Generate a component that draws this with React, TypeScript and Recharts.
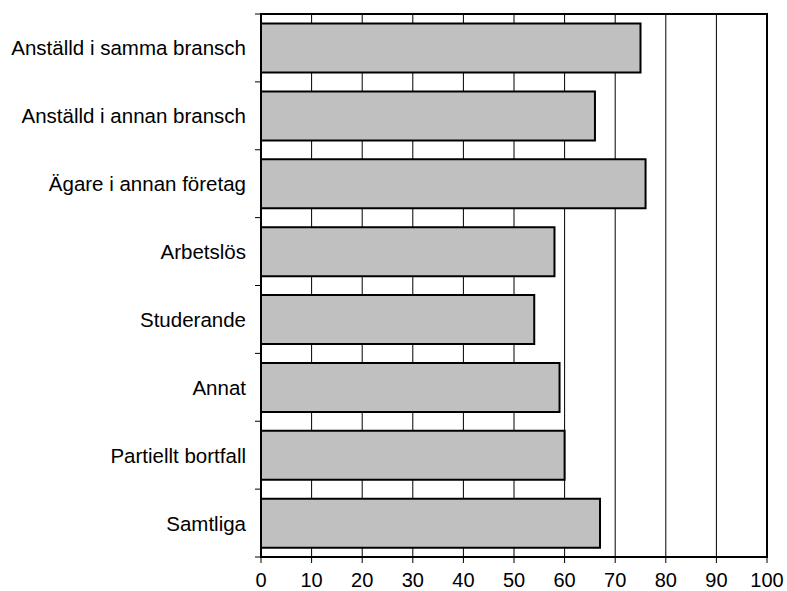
import { BarChart, Bar, XAxis, YAxis, CartesianGrid, ReferenceArea } from 'recharts';

const CATEGORIES = [
  'Anställd i samma bransch',
  'Anställd i annan bransch',
  'Ägare i annan företag',
  'Arbetslös',
  'Studerande',
  'Annat',
  'Partiellt bortfall',
  'Samtliga',
];

const VALUES = [75, 66, 76, 58, 54, 59, 60, 67];

const X_TICKS = [0, 10, 20, 30, 40, 50, 60, 70, 80, 90, 100];

const FONT = '"Liberation Sans", Arial, sans-serif';

const TOP = 14;
const BOTTOM = 557;
const BAND = (BOTTOM - TOP) / CATEGORIES.length;
const AXIS_X = 261;

const data = CATEGORIES.map((name, i) => ({ name, value: VALUES[i] }));

// category label plus a tick mark on the band boundary (like the original)
function CategoryTick(props: any) {
  const { y, payload, index } = props;
  return (
    <g>
      <text
        x={AXIS_X - 15}
        y={y}
        textAnchor="end"
        dominantBaseline="central"
        fontFamily={FONT}
        fontSize={20.5}
        fill="#000"
      >
        {payload.value}
      </text>
      <line x1={AXIS_X - 6} x2={AXIS_X} y1={y + BAND / 2} y2={y + BAND / 2} stroke="#000" />
      {index === 0 && (
        <line x1={AXIS_X - 6} x2={AXIS_X} y1={y - BAND / 2} y2={y - BAND / 2} stroke="#000" />
      )}
    </g>
  );
}

export default function App() {
  return (
    <div style={{ width: 787, height: 591, background: '#fff' }}>
      <style>{'body{margin:0}'}</style>
      <BarChart
        width={787}
        height={591}
        data={data}
        layout="vertical"
        margin={{ top: TOP, right: 20, bottom: 591 - BOTTOM - 30, left: 0 }}
        barCategoryGap="14%"
      >
        <CartesianGrid horizontal={false} stroke="#000" strokeDasharray="" />
        <XAxis
          type="number"
          domain={[0, 100]}
          ticks={X_TICKS}
          interval={0}
          height={30}
          tickSize={6}
          tickMargin={10}
          axisLine={{ stroke: '#000', strokeWidth: 2 }}
          tickLine={{ stroke: '#000' }}
          tick={{ fill: '#000', fontSize: 20, fontFamily: FONT }}
        />
        <YAxis
          type="category"
          dataKey="name"
          width={AXIS_X}
          interval={0}
          tickLine={false}
          axisLine={{ stroke: '#000', strokeWidth: 2 }}
          tick={<CategoryTick />}
        />
        <Bar dataKey="value" fill="#c0c0c0" stroke="#000" strokeWidth={2} isAnimationActive={false} />
        <ReferenceArea x1={0} x2={100} fill="none" stroke="#000" strokeWidth={2} ifOverflow="visible" />
      </BarChart>
    </div>
  );
}
